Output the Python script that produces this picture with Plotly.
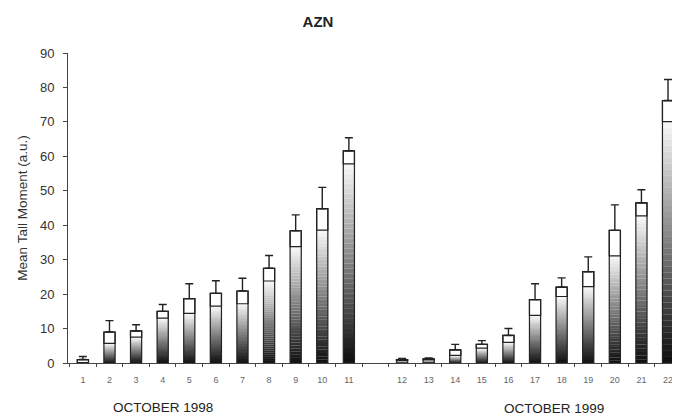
import plotly.graph_objects as go
import numpy as np

# ---- data ----
labels_1998 = [str(i) for i in range(1, 12)]
labels_1999 = [str(i) for i in range(12, 23)]
means_1998 = [1.0, 9.0, 9.3, 15.0, 18.7, 20.2, 20.9, 27.5, 38.4, 44.8, 61.6]
errs_1998 = [0.9, 3.3, 1.8, 2.0, 4.3, 3.7, 3.7, 3.7, 4.6, 6.2, 3.8]
means_1999 = [1.0, 1.2, 3.8, 5.4, 8.0, 18.4, 22.0, 26.5, 38.5, 46.5, 76.2]
errs_1999 = [0.3, 0.3, 1.6, 1.1, 2.0, 4.6, 2.7, 4.3, 7.4, 3.8, 6.1]
title_text = "AZN"
y_title = "Mean Tall Moment (a.u.)"
group_labels = ["OCTOBER 1998", "OCTOBER 1999"]

# slot positions (one empty slot between the two years)
x_pos = list(range(1, 12)) + list(range(13, 24))
labels = labels_1998 + labels_1999
means = np.array(means_1998 + means_1999)
errs = np.array(errs_1998 + errs_1999)
lower = np.clip(means - errs, 0, None)
upper_part = means - lower

BAR_W = 0.42
N_SEG = 40

fig = go.Figure()

# gradient lower part: stacked thin segments, dark at bottom fading to white
for k in range(N_SEG):
    t = (k + 0.5) / N_SEG
    g = int(15 + 235 * (t ** 1.05))
    g = min(g, 248)
    col = f"rgb({g},{g},{g})"
    fig.add_trace(go.Bar(
        x=x_pos, y=lower / N_SEG * 1.02, base=lower * k / N_SEG,
        width=BAR_W, marker=dict(color=col, line=dict(width=0)),
        showlegend=False, hoverinfo="skip"))

# white upper box (mean-err to mean)
fig.add_trace(go.Bar(
    x=x_pos, y=upper_part, base=lower, width=BAR_W,
    marker=dict(color="white", line=dict(color="#222", width=1.2)),
    showlegend=False, hoverinfo="skip"))

# outline of full bar plus upper error bar
fig.add_trace(go.Bar(
    x=x_pos, y=means, width=BAR_W,
    marker=dict(color="rgba(0,0,0,0)", line=dict(color="#222", width=1.2)),
    error_y=dict(type="data", symmetric=False, array=errs,
                 arrayminus=[0] * len(errs), color="#222",
                 thickness=1.4, width=4),
    showlegend=False))

PLOT_H = 408 - 45 - 53

fig.update_layout(
    barmode="overlay",
    width=672, height=408,
    margin=dict(l=60, r=0, t=45, b=53),
    paper_bgcolor="white", plot_bgcolor="white",
    font=dict(family="Liberation Sans, Arial, sans-serif", color="#333"),
    title=dict(text=f"<b>{title_text}</b>", x=310 / 672, xanchor="center",
               y=1 - 14 / 408, yanchor="middle",
               font=dict(size=15, color="#222")),
    xaxis=dict(range=[0.44, 23.45], tickmode="array", tickvals=x_pos,
               ticktext=labels, ticks="outside", ticklen=8,
               tickcolor="rgba(0,0,0,0)",
               tickfont=dict(size=9, color="#666"),
               showline=True, linecolor="#444", linewidth=1,
               showgrid=False, zeroline=False,
               minor=dict(ticks="outside", ticklen=3, tickcolor="#444",
                          tick0=0.5, dtick=1, showgrid=False)),
    yaxis=dict(range=[0, 90], tickvals=list(range(0, 91, 10)),
               ticks="outside", ticklen=4, tickcolor="#444",
               ticklabelstandoff=6,
               tickfont=dict(size=13, color="#333"),
               showline=True, linecolor="#444", linewidth=1,
               showgrid=False, zeroline=False,
               title=dict(text=y_title, font=dict(size=13.5, color="#333"),
                          standoff=9)),
    annotations=[
        dict(text=group_labels[0], x=4.0, xref="x", y=-44 / PLOT_H,
             yref="paper", showarrow=False, yanchor="middle",
             font=dict(size=13.5, color="#222")),
        dict(text=group_labels[1], x=18.7, xref="x", y=-45 / PLOT_H,
             yref="paper", showarrow=False, yanchor="middle",
             font=dict(size=13.5, color="#222")),
    ],
)

fig.write_html("out.html")
